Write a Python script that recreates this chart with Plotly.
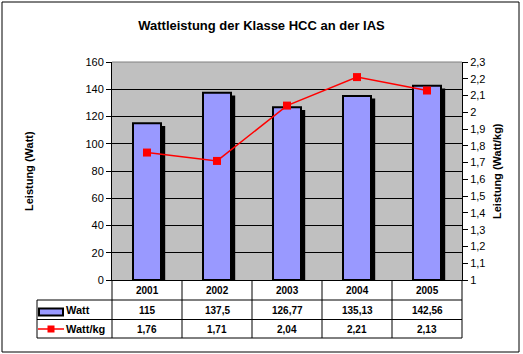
import plotly.graph_objects as go

years = ["2001", "2002", "2003", "2004", "2005"]
watt = [115, 137.5, 126.77, 135.13, 142.56]
watt_kg = [1.76, 1.71, 2.04, 2.21, 2.13]
left_ticks = list(range(0, 161, 20))
right_ticks = [round(1 + 0.1 * i, 1) for i in range(14)]

W, H = 523, 354
L, R, T, B = 112, 61, 62, 74
PW, PH = W - L - R, H - T - B


def px(x):
    return (x - L) / PW


def py(y):
    return (H - B - y) / PH


def fmt(v):
    return str(v).replace(".", ",")


FONT = "Liberation Sans, Arial, sans-serif"
fig = go.Figure()

# shadow bars
fig.add_trace(go.Bar(x=years, y=[v - 2 for v in watt], width=0.4, offset=-0.14,
                     marker=dict(color="black", line=dict(width=0)),
                     showlegend=False, hoverinfo="skip"))
fig.add_trace(go.Bar(x=years, y=watt, width=0.4, offset=-0.2, name="Watt",
                     marker=dict(color="#9999FF", line=dict(color="black", width=2)),
                     showlegend=False))
fig.add_trace(go.Scatter(x=years, y=watt_kg, yaxis="y2", mode="lines+markers", name="Watt/kg",
                         line=dict(color="#FF0000", width=1.5),
                         marker=dict(symbol="square", size=8, color="#FF0000"),
                         showlegend=False))

shapes = []
# outer border
shapes.append(dict(type="rect", xref="paper", yref="paper", x0=px(2), x1=px(519), y0=py(2), y1=py(352),
                   line=dict(color="black", width=1), layer="below"))
# top border of plot area (gray)
shapes.append(dict(type="line", xref="paper", yref="paper", x0=0, x1=1, y0=1, y1=1,
                   line=dict(color="#808080", width=1), layer="above"))

n = len(years)
row_y = [280, 300, 319.5, 338]
tbl_left = 37
# horizontal table lines
for yy in row_y[1:]:
    shapes.append(dict(type="line", xref="paper", yref="paper", x0=px(tbl_left), x1=1, y0=py(yy), y1=py(yy),
                       line=dict(color="black", width=1)))
# vertical lines
shapes.append(dict(type="line", xref="paper", yref="paper", x0=px(tbl_left), x1=px(tbl_left),
                   y0=py(row_y[1]), y1=py(row_y[3]), line=dict(color="black", width=1)))
for i in range(n + 1):
    xx = i / n
    shapes.append(dict(type="line", xref="paper", yref="paper", x0=xx, x1=xx,
                       y0=0, y1=py(row_y[3]), line=dict(color="black", width=1)))
# legend keys
shapes.append(dict(type="rect", xref="paper", yref="paper", x0=px(39), x1=px(63), y0=py(308.5), y1=py(315.5),
                   fillcolor="#9999FF", line=dict(color="black", width=2)))
shapes.append(dict(type="line", xref="paper", yref="paper", x0=px(38), x1=px(64), y0=py(329), y1=py(329),
                   line=dict(color="#FF0000", width=1.5)))
shapes.append(dict(type="rect", xref="paper", yref="paper", x0=px(47.5), x1=px(54.5), y0=py(325.5), y1=py(332.5),
                   fillcolor="#FF0000", line=dict(color="#FF0000", width=0)))

ann = []
tf = dict(family=FONT, size=10, color="black")
for i, yv in enumerate(years):
    ann.append(dict(x=i, xref="x", y=py(290), yref="paper", text=f"<b>{yv}</b>", showarrow=False,
                    font=tf, xanchor="center", yanchor="middle"))
    ann.append(dict(x=i, xref="x", y=py(310), yref="paper", text=f"<b>{fmt(watt[i])}</b>", showarrow=False,
                    font=tf, xanchor="center", yanchor="middle"))
    ann.append(dict(x=i, xref="x", y=py(329), yref="paper", text=f"<b>{fmt(watt_kg[i])}</b>", showarrow=False,
                    font=tf, xanchor="center", yanchor="middle"))
ann.append(dict(x=px(64), xref="paper", y=py(310), yref="paper", text="<b>Watt</b>", showarrow=False,
                font=dict(family=FONT, size=11, color="black"), xanchor="left", yanchor="middle"))
ann.append(dict(x=px(64), xref="paper", y=py(329), yref="paper", text="<b>Watt/kg</b>", showarrow=False,
                font=dict(family=FONT, size=11, color="black"), xanchor="left", yanchor="middle"))
ann.append(dict(x=px(29), xref="paper", y=0.5, yref="paper", text="<b>Leistung (Watt)</b>", showarrow=False,
                textangle=-90, font=dict(family=FONT, size=11, color="black"), xanchor="center", yanchor="middle"))
ann.append(dict(x=px(497), xref="paper", y=0.5, yref="paper", text="<b>Leistung (Watt/kg)</b>", showarrow=False,
                textangle=-90, font=dict(family=FONT, size=11, color="black"), xanchor="center", yanchor="middle"))

fig.update_layout(
    width=W, height=H, margin=dict(l=L, r=R, t=T, b=B, autoexpand=False),
    paper_bgcolor="white", plot_bgcolor="#C0C0C0",
    barmode="overlay", separators=", ",
    title=dict(text="<b>Wattleistung der Klasse HCC an der IAS</b>", x=0.5, xref="container",
               y=1 - 25 / H, yref="container", xanchor="center", yanchor="middle",
               font=dict(family=FONT, size=13, color="black")),
    xaxis=dict(type="category", range=[-0.5, n - 0.5], showticklabels=False, ticks="",
               showline=True, linecolor="black", linewidth=1, showgrid=False, zeroline=False, fixedrange=True),
    yaxis=dict(range=[0, 160], tickvals=left_ticks, ticks="outside", ticklen=5, tickcolor="black",
               showline=True, linecolor="black", linewidth=1, showgrid=True, gridcolor="black", gridwidth=1,
               zeroline=False, tickfont=dict(family=FONT, size=11, color="black")),
    yaxis2=dict(range=[1, 2.3], tickvals=right_ticks, overlaying="y", side="right", ticks="outside",
                ticklen=5, tickcolor="black", showline=True, linecolor="black", linewidth=1,
                showgrid=False, zeroline=False, tickfont=dict(family=FONT, size=11, color="black")),
    shapes=shapes, annotations=ann,
)

fig.write_html("out.html")
